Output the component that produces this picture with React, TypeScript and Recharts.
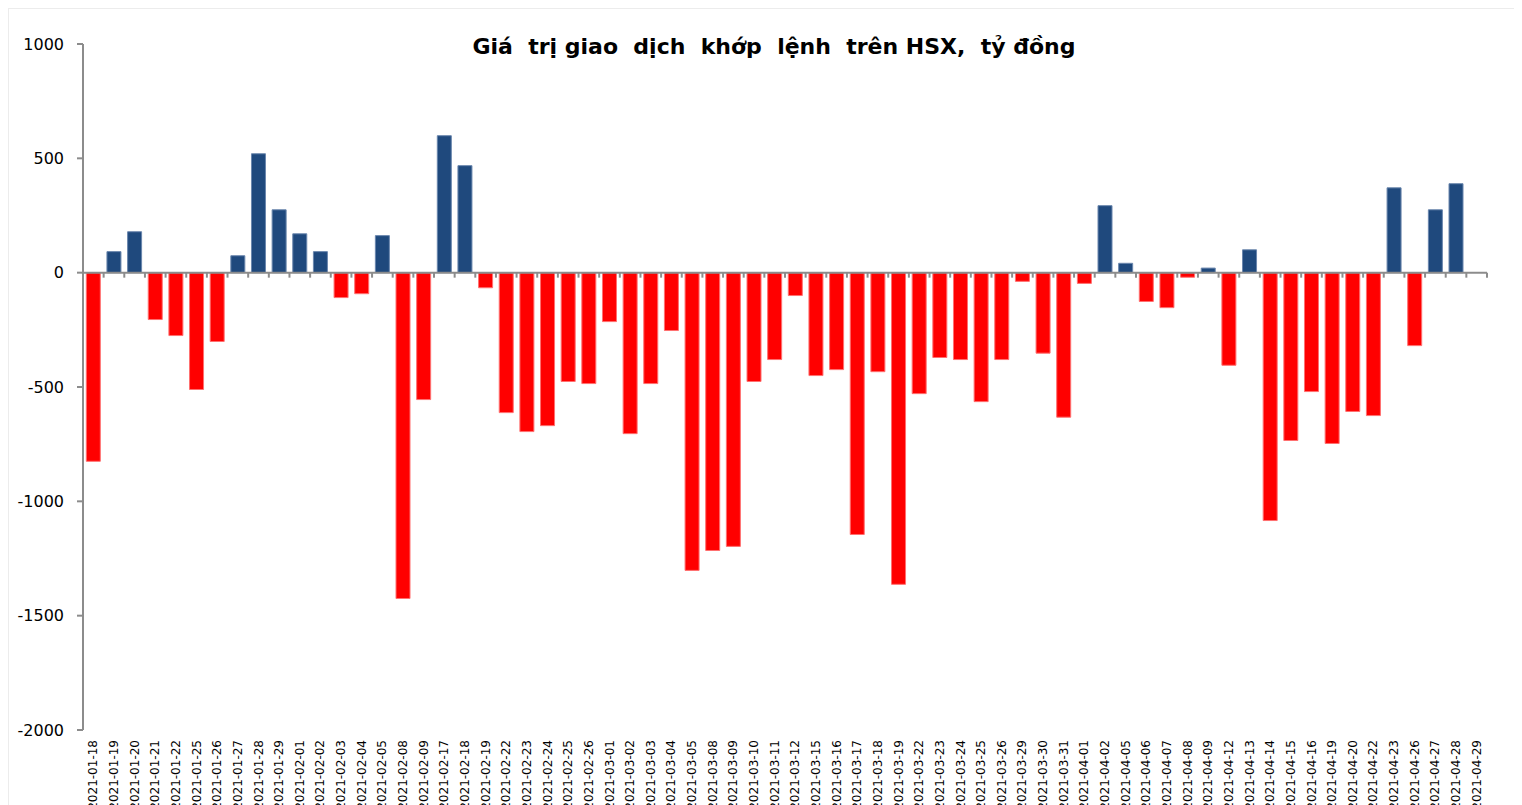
import { BarChart, Bar, Cell, XAxis, YAxis, ReferenceLine } from "recharts";

const dates = [
  "2021-01-18", "2021-01-19", "2021-01-20", "2021-01-21", "2021-01-22", "2021-01-25",
  "2021-01-26", "2021-01-27", "2021-01-28", "2021-01-29", "2021-02-01", "2021-02-02",
  "2021-02-03", "2021-02-04", "2021-02-05", "2021-02-08", "2021-02-09", "2021-02-17",
  "2021-02-18", "2021-02-19", "2021-02-22", "2021-02-23", "2021-02-24", "2021-02-25",
  "2021-02-26", "2021-03-01", "2021-03-02", "2021-03-03", "2021-03-04", "2021-03-05",
  "2021-03-08", "2021-03-09", "2021-03-10", "2021-03-11", "2021-03-12", "2021-03-15",
  "2021-03-16", "2021-03-17", "2021-03-18", "2021-03-19", "2021-03-22", "2021-03-23",
  "2021-03-24", "2021-03-25", "2021-03-26", "2021-03-29", "2021-03-30", "2021-03-31",
  "2021-04-01", "2021-04-02", "2021-04-05", "2021-04-06", "2021-04-07", "2021-04-08",
  "2021-04-09", "2021-04-12", "2021-04-13", "2021-04-14", "2021-04-15", "2021-04-16",
  "2021-04-19", "2021-04-20", "2021-04-22", "2021-04-23", "2021-04-26", "2021-04-27",
  "2021-04-28", "2021-04-29",
];

// net matched value, billion VND (no bar on the last day)
const values: (number | null)[] = [
  -825, 92, 179, -205, -275, -511,
  -301, 74, 520, 275, 170, 92,
  -109, -92, 162, -1425, -555, 599,
  468, -66, -612, -695, -669, -476,
  -485, -214, -704, -485, -253, -1302,
  -1215, -1197, -476, -380, -100, -450,
  -424, -1145, -433, -1363, -529, -371,
  -380, -564, -380, -38, -352, -632,
  -47, 293, 41, -126, -153, -20,
  20, -405, 100, -1084, -734, -520,
  -747, -607, -625, 371, -319, 275,
  389, null,
];

const yTicks = [-2000, -1500, -1000, -500, 0, 500, 1000];

const title = "Giá  trị giao  dịch  khớp  lệnh  trên HSX,  tỷ đồng";

const data = dates.map((d, i) => ({ date: d, value: values[i] }));

const DateTick = (props: any) => {
  const { x, y, payload } = props;
  return (
    <text
      x={x}
      y={y}
      transform={`rotate(-90, ${x}, ${y})`}
      textAnchor="end"
      dominantBaseline="central"
      fontSize={12}
      fontFamily="DejaVu Sans"
      fill="#000"
    >
      {payload.value}
    </text>
  );
};

// zero line with small tick marks between the categories
const ZeroLine = (props: any) => {
  const { x1, y1, x2 } = props;
  const step = (x2 - x1) / dates.length;
  const marks = [];
  for (let i = 0; i <= dates.length; i++) {
    const x = x1 + i * step;
    marks.push(<line key={i} x1={x} x2={x} y1={y1} y2={y1 + 5} stroke="#8c8c8c" strokeWidth={2} />);
  }
  return (
    <g>
      <line x1={x1} x2={x2} y1={y1} y2={y1} stroke="#8c8c8c" strokeWidth={2} />
      {marks}
    </g>
  );
};

export default function App() {
  return (
    <div
      style={{
        position: "relative",
        width: 1510,
        height: 830,
        border: "1px solid #ececec",
        overflow: "hidden",
        background: "#fff",
      }}
    >
      <div
        style={{
          position: "absolute",
          top: 25,
          left: 10,
          width: "100%",
          textAlign: "center",
          fontFamily: "DejaVu Sans",
          fontWeight: "bold",
          fontSize: 22,
          lineHeight: "26px",
          whiteSpace: "pre",
          color: "#000",
        }}
      >
        {title}
      </div>
      <BarChart
        width={1510}
        height={830}
        data={data}
        margin={{ top: 35, right: 32, left: 0, bottom: 0 }}
        barCategoryGap="16%"
      >
        <XAxis
          dataKey="date"
          interval={0}
          height={109}
          axisLine={false}
          tickLine={false}
          tickSize={0}
          tickMargin={10}
          tick={DateTick}
        />
        <YAxis
          width={74}
          domain={[-2000, 1000]}
          ticks={yTicks}
          allowDataOverflow
          axisLine={{ stroke: "#8c8c8c", strokeWidth: 2 }}
          tickLine={{ stroke: "#8c8c8c", strokeWidth: 2 }}
          tickSize={6}
          tickMargin={13}
          tick={{ fontSize: 16, fontFamily: "DejaVu Sans", fill: "#000" }}
        />
        <Bar dataKey="value" isAnimationActive={false}>
          {data.map((d, i) => (
            <Cell
              key={i}
              fill={(d.value ?? 0) >= 0 ? "#1f497d" : "#ff0000"}
              stroke={(d.value ?? 0) >= 0 ? "#6a86ad" : "#ff7070"}
              strokeWidth={1}
            />
          ))}
        </Bar>
        <ReferenceLine y={0} shape={ZeroLine} />
      </BarChart>
    </div>
  );
}
